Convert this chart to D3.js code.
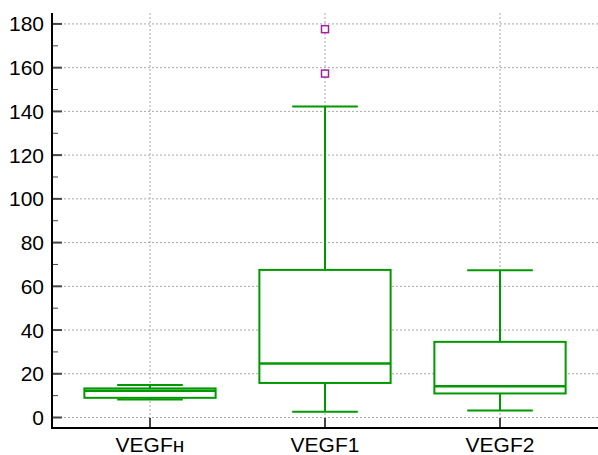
<!DOCTYPE html>
<html>
<head>
<meta charset="utf-8">
<script src="https://cdn.jsdelivr.net/npm/d3@7"></script>
<style>
  body { margin: 0; background: #fff; }
  text { font-family: "Liberation Sans", Arial, sans-serif; }
</style>
</head>
<body>
<div id="chart"></div>
<script>
// box plot values
const categories = ["VEGFн", "VEGF1", "VEGF2"];
const mins     = [8.2, 2.6, 3.2];
const q1s      = [9.0, 15.8, 11.0];
const medians  = [12.2, 24.7, 14.3];
const q3s      = [13.3, 67.5, 34.6];
const maxs     = [14.9, 142.2, 67.4];
const outliers = [[], [157.3, 177.6], []];
const yTicks   = [0, 20, 40, 60, 80, 100, 120, 140, 160, 180];
const yMinor   = [10, 30, 50, 70, 90, 110, 130, 150, 170];

const W = 598, H = 455;
const margin = { top: 13, right: 0, bottom: 27, left: 52 };

const svg = d3.select("#chart").append("svg")
    .attr("width", W)
    .attr("height", H);

const x = d3.scalePoint()
    .domain(categories)
    .range([margin.left, W - margin.right])
    .padding(0.56);

const y = d3.scaleLinear()
    .domain([-4.8, 185])
    .range([H - margin.bottom, margin.top]);

const green = "#009a00";
const boxW = x.step() * 0.75;
const capW = boxW / 2;

// grid
svg.append("g")
   .selectAll("line")
   .data(yTicks)
   .enter().append("line")
   .attr("x1", margin.left).attr("x2", W - margin.right)
   .attr("y1", d => y(d)).attr("y2", d => y(d))
   .attr("stroke", "#a8a8a8")
   .attr("stroke-dasharray", "2,2");

svg.append("g")
   .selectAll("line")
   .data(categories)
   .enter().append("line")
   .attr("x1", d => x(d)).attr("x2", d => x(d))
   .attr("y1", margin.top).attr("y2", H - margin.bottom)
   .attr("stroke", "#a8a8a8")
   .attr("stroke-dasharray", "2,2");

// ticks (inside)
svg.append("g")
   .selectAll("line")
   .data(yTicks)
   .enter().append("line")
   .attr("x1", margin.left).attr("x2", margin.left + 10)
   .attr("y1", d => y(d)).attr("y2", d => y(d))
   .attr("stroke", "#444").attr("stroke-width", 2);

svg.append("g")
   .selectAll("line")
   .data(yMinor)
   .enter().append("line")
   .attr("x1", margin.left).attr("x2", margin.left + 6)
   .attr("y1", d => y(d)).attr("y2", d => y(d))
   .attr("stroke", "#444").attr("stroke-width", 1);

svg.append("g")
   .selectAll("line")
   .data(categories)
   .enter().append("line")
   .attr("x1", d => x(d)).attr("x2", d => x(d))
   .attr("y1", H - margin.bottom).attr("y2", H - margin.bottom - 10)
   .attr("stroke", "#444").attr("stroke-width", 2);

// tick labels
svg.append("g")
   .selectAll("text")
   .data(yTicks)
   .enter().append("text")
   .attr("x", 44)
   .attr("y", d => y(d) + 7.5)
   .attr("text-anchor", "end")
   .attr("font-size", 21)
   .text(d => d);

svg.append("g")
   .selectAll("text")
   .data(categories)
   .enter().append("text")
   .attr("x", d => x(d))
   .attr("y", 452)
   .attr("text-anchor", "middle")
   .attr("font-size", 21)
   .text(d => d);

// boxes
const boxes = svg.append("g")
   .selectAll("g")
   .data(categories.map((c, i) => ({
       c, min: mins[i], q1: q1s[i], med: medians[i], q3: q3s[i], max: maxs[i], out: outliers[i]
   })))
   .enter().append("g");

boxes.append("line")
   .attr("x1", d => x(d.c)).attr("x2", d => x(d.c))
   .attr("y1", d => y(d.q3)).attr("y2", d => y(d.max))
   .attr("stroke", green).attr("stroke-width", 2);

boxes.append("line")
   .attr("x1", d => x(d.c)).attr("x2", d => x(d.c))
   .attr("y1", d => y(d.q1)).attr("y2", d => y(d.min))
   .attr("stroke", green).attr("stroke-width", 2);

boxes.append("line")
   .attr("x1", d => x(d.c) - capW / 2).attr("x2", d => x(d.c) + capW / 2)
   .attr("y1", d => y(d.max)).attr("y2", d => y(d.max))
   .attr("stroke", green).attr("stroke-width", 2);

boxes.append("line")
   .attr("x1", d => x(d.c) - capW / 2).attr("x2", d => x(d.c) + capW / 2)
   .attr("y1", d => y(d.min)).attr("y2", d => y(d.min))
   .attr("stroke", green).attr("stroke-width", 2);

boxes.append("rect")
   .attr("x", d => x(d.c) - boxW / 2)
   .attr("width", boxW)
   .attr("y", d => y(d.q3))
   .attr("height", d => y(d.q1) - y(d.q3))
   .attr("fill", "#fff")
   .attr("stroke", green).attr("stroke-width", 2);

boxes.append("line")
   .attr("x1", d => x(d.c) - boxW / 2).attr("x2", d => x(d.c) + boxW / 2)
   .attr("y1", d => y(d.med)).attr("y2", d => y(d.med))
   .attr("stroke", green).attr("stroke-width", 2.5);

boxes.selectAll("rect.out")
   .data(d => d.out.map(v => ({ c: d.c, v })))
   .enter().append("rect")
   .attr("class", "out")
   .attr("x", d => x(d.c) - 3.5)
   .attr("y", d => y(d.v) - 3.5)
   .attr("width", 7).attr("height", 7)
   .attr("fill", "#fff")
   .attr("stroke", "#a020a0").attr("stroke-width", 1.5);

// axes lines
svg.append("line")
   .attr("x1", margin.left).attr("x2", margin.left)
   .attr("y1", margin.top).attr("y2", H - margin.bottom + 1)
   .attr("stroke", "#000").attr("stroke-width", 2);

svg.append("line")
   .attr("x1", margin.left - 1).attr("x2", W - margin.right)
   .attr("y1", H - margin.bottom).attr("y2", H - margin.bottom)
   .attr("stroke", "#000").attr("stroke-width", 2);
</script>
</body>
</html>
